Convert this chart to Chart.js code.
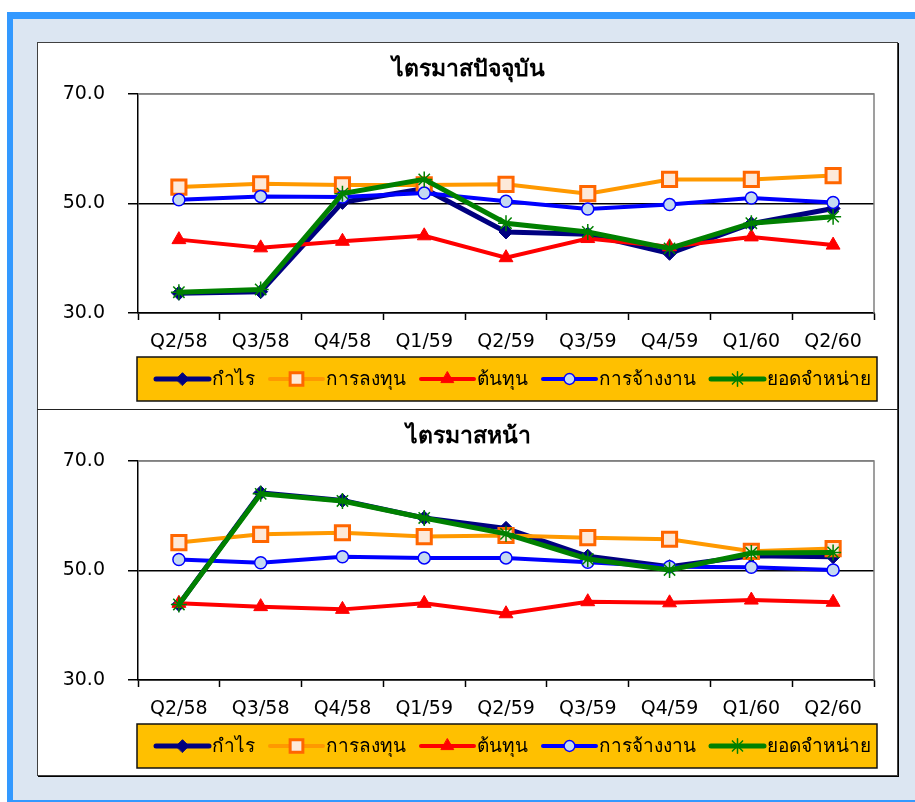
<!DOCTYPE html>
<html>
<head>
<meta charset="utf-8">
<script src="https://cdn.jsdelivr.net/npm/chart.js@4.4.1/dist/chart.umd.min.js"></script>
<style>
  html, body { margin: 0; overflow: hidden; }
  body { background: #fff; width: 915px; height: 802px; position: relative; }
  #frame { position: absolute; left: 7px; top: 12px; width: 902px; height: 781px;
           background: #dce6f2; border-left: 6px solid #3399ff; border-top: 7px solid #3399ff; border-bottom: 2px solid #3399ff; }
  #box { position: absolute; left: 37px; top: 42px; width: 859px; height: 732px; background: #fff;
         border: 1.5px solid #404040; box-shadow: 1px 1px 0 #000; }
  #divider { position: absolute; left: 37px; top: 409px; width: 862px; height: 0; border-top: 1.5px solid #222; }
  canvas { position: absolute; left: 38px; }
  #chartNow { top: 43px; }
  #chartNext { top: 410px; }
</style>
</head>
<body>
<div id="frame"></div>
<div id="box"></div>
<div id="divider"></div>
<canvas id="chartNow" width="860" height="366"></canvas>
<canvas id="chartNext" width="860" height="366"></canvas>
<script>
var quarters = ['Q2/58', 'Q3/58', 'Q4/58', 'Q1/59', 'Q2/59', 'Q3/59', 'Q4/59', 'Q1/60', 'Q2/60'];
var seriesNames = ['กำไร', 'การลงทุน', 'ต้นทุน', 'การจ้างงาน', 'ยอดจำหน่าย'];
var yTicks = [30, 50, 70];

// ไตรมาสปัจจุบัน
var profitNow = [33.6, 33.9, 50.2, 52.7, 44.8, 44.4, 40.9, 46.3, 49.1];
var investNow = [53.0, 53.6, 53.4, 53.4, 53.5, 51.8, 54.4, 54.4, 55.1];
var costNow   = [43.4, 41.9, 43.1, 44.1, 40.1, 43.6, 42.1, 43.9, 42.4];
var employNow = [50.7, 51.3, 51.2, 51.9, 50.4, 49.0, 49.8, 51.0, 50.2];
var salesNow  = [33.8, 34.3, 51.8, 54.4, 46.4, 44.8, 41.8, 46.4, 47.6];

// ไตรมาสหน้า
var profitNext = [43.8, 64.2, 62.8, 59.6, 57.7, 52.6, 50.7, 52.7, 52.5];
var investNext = [55.1, 56.6, 56.9, 56.2, 56.4, 56.0, 55.7, 53.5, 54.0];
var costNext   = [44.0, 43.4, 42.9, 44.0, 42.1, 44.3, 44.1, 44.6, 44.2];
var employNext = [52.0, 51.4, 52.5, 52.3, 52.3, 51.5, 50.7, 50.6, 50.1];
var salesNext  = [43.8, 64.0, 62.7, 59.6, 56.7, 52.1, 50.1, 53.2, 53.3];

var FONT = "Tahoma, 'DejaVu Sans', 'Noto Sans', sans-serif";

// line + marker styles, same order as seriesNames
var styles = [
  { borderColor: '#000080', borderWidth: 5, pointStyle: 'rectRot', pointRadius: 7, pointBackgroundColor: '#000080', pointBorderColor: '#000080', pointBorderWidth: 1, order: 5 },
  { borderColor: '#ff9900', borderWidth: 4, pointStyle: 'rect', pointRadius: 10, pointBackgroundColor: '#fde9d9', pointBorderColor: '#ff6600', pointBorderWidth: 3, order: 4 },
  { borderColor: '#ff0000', borderWidth: 4, pointStyle: 'triangle', pointRadius: 8, pointBackgroundColor: '#ff0000', pointBorderColor: '#ff0000', pointBorderWidth: 1, order: 3 },
  { borderColor: '#0000ff', borderWidth: 4, pointStyle: 'circle', pointRadius: 6, pointBackgroundColor: '#c5d9f1', pointBorderColor: '#0000ff', pointBorderWidth: 1.5, order: 2 },
  { borderColor: '#008000', borderWidth: 5, pointStyle: 'star', pointRadius: 8, pointBackgroundColor: '#008000', pointBorderColor: '#008000', pointBorderWidth: 1.5, order: 1 }
];

// gray frame on top / right of the plot
var plotFrame = {
  id: 'plotFrame',
  beforeDatasetsDraw: function(chart) {
    var a = chart.chartArea, ctx = chart.ctx;
    ctx.save();
    ctx.strokeStyle = '#808080';
    ctx.lineWidth = 1.5;
    ctx.beginPath();
    ctx.moveTo(a.left, a.top);
    ctx.lineTo(a.right, a.top);
    ctx.lineTo(a.right, a.bottom);
    ctx.stroke();
    ctx.restore();
  }
};

// yellow legend box under the axis, line + marker per series
var boxLegend = {
  id: 'boxLegend',
  afterDraw: function(chart) {
    var a = chart.chartArea, ctx = chart.ctx;
    var left = a.left - 1, top = a.bottom + 44, w = a.right - a.left + 4, h = 44;
    ctx.save();
    ctx.fillStyle = '#ffc000';
    ctx.fillRect(left, top, w, h);
    ctx.strokeStyle = '#111';
    ctx.lineWidth = 1.5;
    ctx.strokeRect(left, top, w, h);

    ctx.font = '19px ' + FONT;
    ctx.textBaseline = 'middle';
    var ds = chart.data.datasets;
    var lineLen = 53, gapText = 3, gap = 15;
    var x = left + 19, cy = top + h / 2;
    ds.forEach(function(d) {
      ctx.strokeStyle = d.borderColor;
      ctx.lineWidth = d.borderWidth;
      ctx.lineCap = 'round';
      ctx.beginPath();
      ctx.moveTo(x, cy);
      ctx.lineTo(x + lineLen, cy);
      ctx.stroke();
      ctx.fillStyle = d.pointBackgroundColor;
      ctx.strokeStyle = d.pointBorderColor;
      ctx.lineWidth = d.pointBorderWidth;
      Chart.helpers.drawPoint(ctx, {
        pointStyle: d.pointStyle, radius: d.pointRadius * 0.9, rotation: 0,
        borderWidth: d.pointBorderWidth
      }, x + lineLen / 2, cy);
      ctx.fillStyle = '#000';
      ctx.fillText(d.label, x + lineLen + gapText, cy + 1);
      x += lineLen + gapText + ctx.measureText(d.label).width + gap;
    });
    ctx.restore();
  }
};

function makeChart(id, title, values) {
  var datasets = values.map(function(v, i) {
    return Object.assign({ label: seriesNames[i], data: v, tension: 0, fill: false }, styles[i]);
  });
  return new Chart(document.getElementById(id), {
    type: 'line',
    data: { labels: quarters, datasets: datasets },
    options: {
      responsive: false,
      animation: false,
      devicePixelRatio: 1,
      layout: { padding: 0 },
      plugins: {
        legend: { display: false },
        tooltip: { enabled: false },
        title: {
          display: true,
          text: title,
          color: '#000',
          font: { family: FONT, size: 23, weight: 'bold', lineHeight: 1.2 },
          padding: { top: 13, bottom: 10.4 }
        }
      },
      scales: {
        x: {
          offset: true,
          grid: { offset: true, drawOnChartArea: false, drawTicks: true, tickLength: 7, tickColor: '#000', tickWidth: 1.5 },
          border: { color: '#000', width: 1.5 },
          ticks: { color: '#000', padding: 11, maxRotation: 0, autoSkip: false, font: { family: FONT, size: 19 } },
          afterFit: function(s) { s.height = 96; }
        },
        y: {
          min: yTicks[0],
          max: yTicks[yTicks.length - 1],
          afterBuildTicks: function(s) { s.ticks = yTicks.map(function(v) { return { value: v }; }); },
          grid: {
            color: function(c) { return c.tick && c.tick.value === yTicks[yTicks.length - 1] ? '#808080' : '#000'; },
            lineWidth: 1.5,
            tickLength: 10,
            tickColor: '#000'
          },
          border: { color: '#000', width: 1.5 },
          ticks: {
            color: '#000', padding: 23, font: { family: FONT, size: 19 },
            callback: function(v) { return Number(v).toFixed(1); }
          },
          afterFit: function(s) { s.width = 100; }
        },
        // empty right-hand axis, only keeps space so the title stays centred on the whole box
        yRight: {
          position: 'right',
          grid: { display: false },
          border: { display: false },
          ticks: { display: false },
          afterFit: function(s) { s.width = 24; }
        }
      }
    },
    plugins: [plotFrame, boxLegend]
  });
}

makeChart('chartNow', 'ไตรมาสปัจจุบัน', [profitNow, investNow, costNow, employNow, salesNow]);
makeChart('chartNext', 'ไตรมาสหน้า', [profitNext, investNext, costNext, employNext, salesNext]);
</script>
</body>
</html>
